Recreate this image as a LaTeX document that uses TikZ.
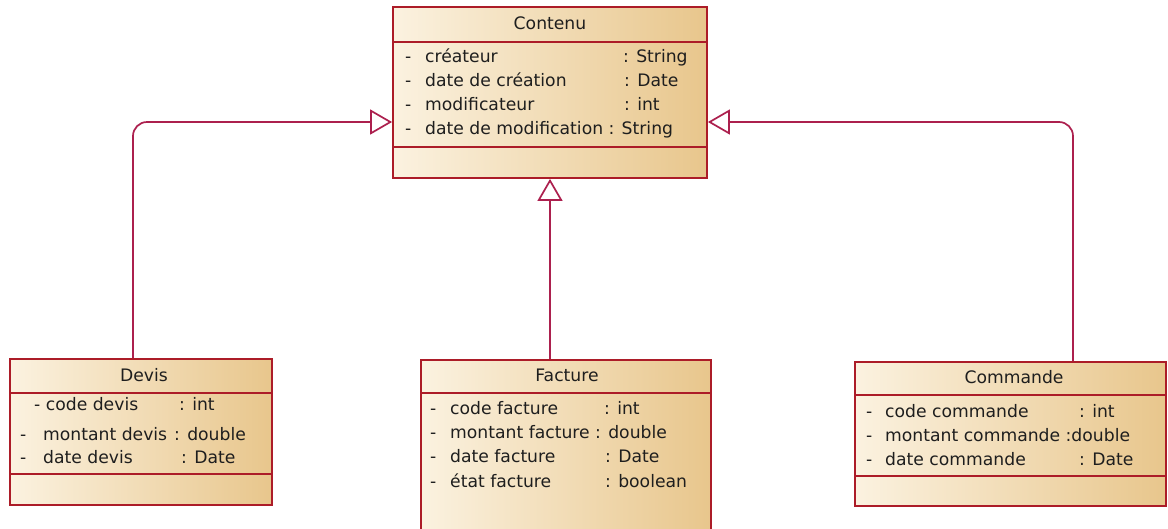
\documentclass[tikz,border=0pt]{standalone}
\usepackage{fontspec}
\setmainfont{DejaVu Sans}
\usetikzlibrary{arrows.meta}
\definecolor{umlred}{RGB}{172,28,40}
\definecolor{linkred}{RGB}{172,32,78}
\definecolor{creamc}{RGB}{251,242,224}
\definecolor{tanc}{RGB}{232,198,140}
\definecolor{inkc}{RGB}{30,30,30}
\newcommand\umlfont{\fontsize{17.2}{20}\selectfont}
\tikzset{
  umlclass/.style={draw=umlred, line width=1.8pt, left color=creamc, right color=tanc, inner sep=0pt},
  sepline/.style={draw=umlred, line width=1.8pt},
  attr/.style={anchor=base west, inner sep=0pt, font=\umlfont, text=inkc},
  title/.style={anchor=base, inner sep=0pt, font=\umlfont, text=inkc},
  gen/.style={draw=linkred, line width=1.7pt, rounded corners=14pt, -{Triangle[open, length=22pt, width=25pt]}}
}
\begin{document}
\begin{tikzpicture}[x=1pt, y=-1pt]
\useasboundingbox (0,0) rectangle (1168,528);
\clip (0,0) rectangle (1168,528);

% class boxes
\node[umlclass, minimum width=314pt, minimum height=171pt] (contenu) at (550,92.5) {};
\node[umlclass, minimum width=262pt, minimum height=146pt] (devis) at (141,432) {};
\node[umlclass, minimum width=290pt, minimum height=200pt] (facture) at (566,460) {};
\node[umlclass, minimum width=311pt, minimum height=144pt] (commande) at (1010.5,434) {};

% compartments
\draw[sepline] (contenu.west |- 0,42) -- (contenu.east |- 0,42);
\draw[sepline] (contenu.west |- 0,147) -- (contenu.east |- 0,147);
\draw[sepline] (devis.west |- 0,393) -- (devis.east |- 0,393);
\draw[sepline] (devis.west |- 0,474) -- (devis.east |- 0,474);
\draw[sepline] (facture.west |- 0,393) -- (facture.east |- 0,393);
\draw[sepline] (commande.west |- 0,395) -- (commande.east |- 0,395);
\draw[sepline] (commande.west |- 0,476) -- (commande.east |- 0,476);

% Contenu
\node[title] (ct) at (550,29) {Contenu};
\node[attr] (c1a) at (405,62) {-};
\node[attr] (c1b) at (425,62) {créateur};
\node[attr] (c1c) at (623,62) {: String};
\node[attr] (c2a) at (405,86) {-};
\node[attr] (c2b) at (425,86) {date de création};
\node[attr] (c2c) at (624,86) {: Date};
\node[attr] (c3a) at (405,110) {-};
\node[attr] (c3b) at (425,110) {modificateur};
\node[attr] (c3c) at (624,110) {: int};
\node[attr] (c4a) at (405,134) {-};
\node[attr] (c4b) at (425,134) {date de modification : String};

% Devis
\node[title] (dt) at (144,381) {Devis};
\node[attr] (d1a) at (34,410) {- code devis};
\node[attr] (d1c) at (179,410) {: int};
\node[attr] (d2a) at (20,440) {-};
\node[attr] (d2b) at (43,440) {montant devis};
\node[attr] (d2c) at (174,440) {: double};
\node[attr] (d3a) at (20,463) {-};
\node[attr] (d3b) at (43,463) {date devis};
\node[attr] (d3c) at (181,463) {: Date};

% Facture
\node[title] (ft) at (567,381) {Facture};
\node[attr] (f1a) at (430,414) {-};
\node[attr] (f1b) at (450,414) {code facture};
\node[attr] (f1c) at (604,414) {: int};
\node[attr] (f2a) at (430,438) {-};
\node[attr] (f2b) at (450,438) {montant facture : double};
\node[attr] (f3a) at (430,462) {-};
\node[attr] (f3b) at (450,462) {date facture};
\node[attr] (f3c) at (605,462) {: Date};
\node[attr] (f4a) at (430,487) {-};
\node[attr] (f4b) at (450,487) {état facture};
\node[attr] (f4c) at (605,487) {: boolean};

% Commande
\node[title] (mt) at (1014,383) {Commande};
\node[attr] (m1a) at (866,417) {-};
\node[attr] (m1b) at (885,417) {code commande};
\node[attr] (m1c) at (1079,417) {: int};
\node[attr] (m2a) at (866,441) {-};
\node[attr] (m2b) at (885,441) {montant commande :double};
\node[attr] (m3a) at (866,465) {-};
\node[attr] (m3b) at (885,465) {date commande};
\node[attr] (m3c) at (1079,465) {: Date};

% generalisations
\draw[gen] ([xshift=-8pt]devis.north) |- (contenu.west |- 0,122);
\draw[gen] (facture.north -| contenu.south) -- (contenu.south);
\draw[gen] ([xshift=62.5pt]commande.north) |- (contenu.east |- 0,122);
\end{tikzpicture}
\end{document}
